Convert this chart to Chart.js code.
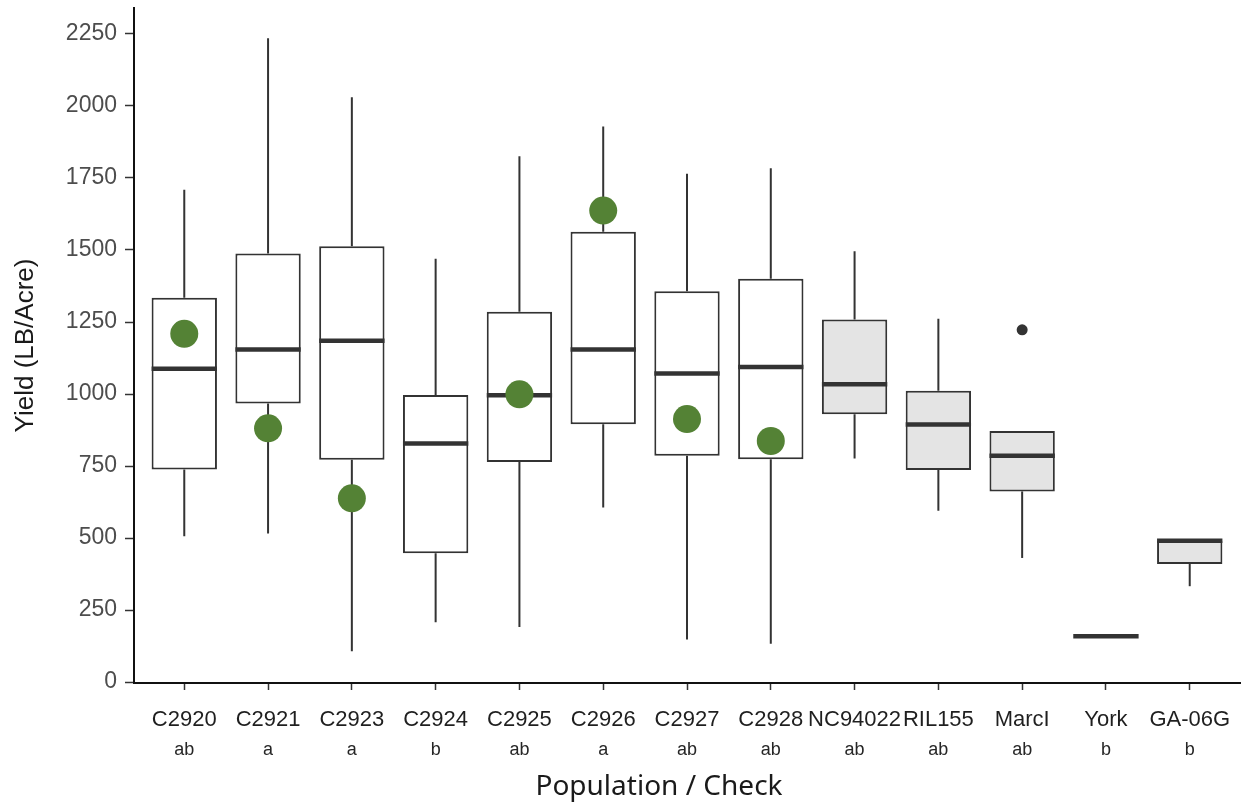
<!DOCTYPE html>
<html>
<head>
<meta charset="utf-8">
<script src="https://cdn.jsdelivr.net/npm/chart.js@4.4.1/dist/chart.umd.min.js"></script>
<style>
  html, body { margin: 0; padding: 0; background: #fff; }
  #wrap { width: 1245px; height: 805px; }
</style>
</head>
<body>
<div id="wrap"><canvas id="yield-chart" width="1245" height="805"></canvas></div>
<script>
// populations / checks and their significance letters
const categories = ['C2920', 'C2921', 'C2923', 'C2924', 'C2925', 'C2926', 'C2927', 'C2928', 'NC94022', 'RIL155', 'MarcI', 'York', 'GA-06G'];
const letters = ['ab', 'a', 'a', 'b', 'ab', 'a', 'ab', 'ab', 'ab', 'ab', 'ab', 'b', 'b'];

// box plot stats (LB/Acre)
const whiskerLow = [506, 516, 107, 208, 191, 606, 148, 133, 776, 595, 431, 159, 333];
const q1 = [738, 967, 772, 447, 764, 895, 786, 774, 930, 736, 662, 159, 410];
const median = [1088, 1155, 1185, 828, 996, 1155, 1071, 1094, 1034, 894, 786, 159, 491];
const q3 = [1334, 1488, 1513, 997, 1286, 1563, 1357, 1400, 1259, 1011, 872, 159, 491];
const whiskerHigh = [1709, 2235, 2030, 1470, 1825, 1929, 1765, 1784, 1496, 1261, 872, 159, 491];

// green markers (parent yield) and outliers
const parentYield = [1209, 881, 638, null, 999, 1637, 913, 837, null, null, null, null, null];
const outliers = [[], [], [], [], [], [], [], [], [], [], [1223], [], []];

const yTicks = [0, 250, 500, 750, 1000, 1250, 1500, 1750, 2000, 2250];

const isCheck = categories.map((c, i) => i >= 8);

// whiskers + medians drawn right after the boxes
const boxExtras = {
    id: 'boxExtras',
    afterDatasetDraw(chart, args) {
        if (args.index !== 0) return;
        const ctx = chart.ctx;
        const x = chart.scales.x;
        const y = chart.scales.y;
        const bars = args.meta.data;
        ctx.save();
        ctx.strokeStyle = '#333333';
        categories.forEach((c, i) => {
            const px = x.getPixelForValue(i + 1);
            const half = bars[i].width / 2;
            ctx.lineWidth = 2;
            ctx.beginPath();
            if (whiskerHigh[i] > q3[i]) {
                ctx.moveTo(px, y.getPixelForValue(q3[i]));
                ctx.lineTo(px, y.getPixelForValue(whiskerHigh[i]));
            }
            if (whiskerLow[i] < q1[i]) {
                ctx.moveTo(px, y.getPixelForValue(q1[i]));
                ctx.lineTo(px, y.getPixelForValue(whiskerLow[i]));
            }
            ctx.stroke();
            ctx.lineWidth = 4.5;
            ctx.lineCap = 'butt';
            ctx.beginPath();
            ctx.moveTo(px - half, y.getPixelForValue(median[i]));
            ctx.lineTo(px + half, y.getPixelForValue(median[i]));
            ctx.stroke();
        });
        ctx.restore();
    },
    afterDraw(chart) {
        const ctx = chart.ctx;
        const x = chart.scales.x;
        ctx.save();
        ctx.fillStyle = '#262626';
        ctx.font = '18px "Liberation Sans", Arial, sans-serif';
        ctx.textAlign = 'center';
        ctx.textBaseline = 'middle';
        letters.forEach((l, i) => {
            ctx.fillText(l, x.getPixelForValue(i + 1), 750);
        });
        // x axis title sits a bit left of centre in the original
        ctx.fillStyle = '#1a1a1a';
        ctx.font = '28px "Noto Sans", "Open Sans", sans-serif';
        ctx.fillText('Population / Check', 659, 787);
        ctx.restore();
    }
};

const ctx = document.getElementById('yield-chart').getContext('2d');

const chart = new Chart(ctx, {
    type: 'bar',
    data: {
        datasets: [{
            label: 'Yield',
            data: categories.map((c, i) => ({ x: i + 1, y: [q1[i], q3[i]] })),
            backgroundColor: isCheck.map(c => c ? '#e4e4e4' : '#ffffff'),
            borderColor: '#333333',
            borderWidth: 2,
            borderSkipped: false,
            barPercentage: 0.78,
            categoryPercentage: 1,
            order: 3
        }, {
            type: 'scatter',
            label: 'Outliers',
            data: outliers.flatMap((arr, i) => arr.map(v => ({ x: i + 1, y: v }))),
            backgroundColor: '#333333',
            borderWidth: 0,
            pointRadius: 5.5,
            order: 2
        }, {
            type: 'scatter',
            label: 'Parent',
            data: parentYield.map((v, i) => ({ x: i + 1, y: v })).filter(p => p.y !== null),
            backgroundColor: '#548235',
            borderWidth: 0,
            pointRadius: 14,
            order: 1
        }]
    },
    options: {
        responsive: false,
        animation: false,
        layout: { autoPadding: false, padding: { top: 8, right: 5, bottom: 0, left: 0 } },
        plugins: {
            legend: { display: false },
            tooltip: { enabled: false }
        },
        scales: {
            x: {
                type: 'linear',
                min: 0.4,
                max: 13.6,
                offset: false,
                afterBuildTicks: scale => {
                    scale.ticks = categories.map((c, i) => ({ value: i + 1 }));
                },
                afterFit: scale => {
                    scale.height = 122;
                    scale.paddingLeft = 0;
                    scale.paddingRight = 0;
                },
                ticks: {
                    autoSkip: false,
                    maxRotation: 0,
                    padding: 17,
                    color: '#1f1f1f',
                    font: { family: '"Liberation Sans", Arial, sans-serif', size: 22 },
                    callback: v => categories[v - 1]
                },
                grid: { display: true, offset: false, drawOnChartArea: false, drawTicks: true, tickLength: 7, tickWidth: 1.5, tickColor: '#333333' },
                border: { display: true, color: '#111111', width: 2 },
                title: { display: false }
            },
            y: {
                min: -3,
                max: 2340,
                afterBuildTicks: scale => {
                    scale.ticks = yTicks.map(v => ({ value: v }));
                },
                afterFit: scale => {
                    scale.width = 134;
                    scale.paddingTop = 0;
                    scale.paddingBottom = 0;
                },
                ticks: {
                    padding: 8,
                    color: '#4d4d4d',
                    font: { family: '"Liberation Sans", Arial, sans-serif', size: 23 },
                    callback: v => String(v)
                },
                grid: { display: true, drawOnChartArea: false, drawTicks: true, tickLength: 9, tickWidth: 1.5, tickColor: '#333333' },
                border: { display: true, color: '#111111', width: 2 },
                title: {
                    display: true,
                    text: 'Yield (LB/Acre)',
                    color: '#1a1a1a',
                    font: { family: '"Liberation Sans", Arial, sans-serif', size: 26 },
                    padding: { top: 10, bottom: 0 }
                }
            }
        }
    },
    plugins: [boxExtras]
});
</script>
</body>
</html>
